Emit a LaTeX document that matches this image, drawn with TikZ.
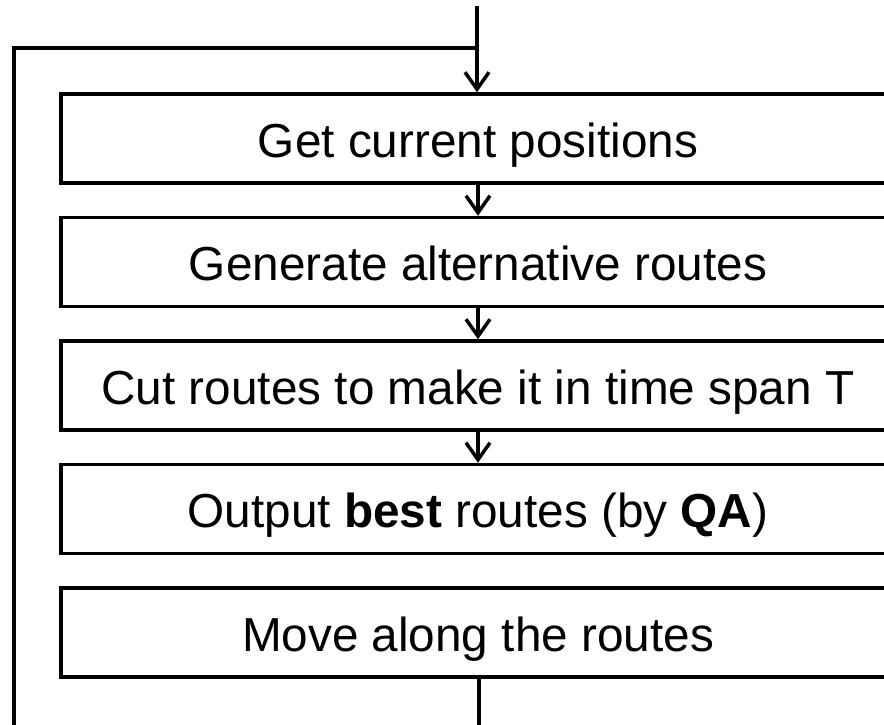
\documentclass[tikz,border=0pt]{standalone}
\usepackage{fontspec}
\setmainfont{Liberation Sans}
\usetikzlibrary{arrows.meta}

\tikzset{
  stepbox/.style={draw=black, line width=3.5pt, inner sep=0pt,
    minimum width=834pt, minimum height=89pt,
    text height=37pt, text depth=0pt,
    font=\fontsize{47.7pt}{57pt}\selectfont},
  flow/.style={draw=black, line width=3.5pt},
  flowarrow/.style={flow, -{Straight Barb[length=17pt, width=24pt, line width=3.5pt]}},
}

\begin{document}
\begin{tikzpicture}[x=1pt, y=-1pt]
  \useasboundingbox (0,0) rectangle (884,724);
  \clip (0,0) rectangle (884,724);

  % process steps
  \node[stepbox] (get)  at (478,138.5) {Get current positions};
  \node[stepbox] (gen)  at (478,262)   {Generate alternative routes};
  \node[stepbox] (cut)  at (478,385.5) {Cut routes to make it in time span T};
  \node[stepbox] (out)  at (478,509)   {Output \textbf{best} routes (by \textbf{QA})};
  \node[stepbox] (move) at (478,632.5) {Move along the routes};

  % entry and loop-back line
  \coordinate (start)  at (477,6);
  \coordinate (join)   at (477,48);
  \coordinate (corner) at (14,48);
  \coordinate (lbot)   at (14,730);
  \coordinate (bend)   at (479,730);

  \draw[flow] (lbot) -- (corner) -- (join);
  \draw[flowarrow] (start) -- (get.north -| start);

  % arrows between steps
  \draw[flowarrow] (get.south) -- (gen.north);
  \draw[flowarrow] (gen.south) -- (cut.north);
  \draw[flowarrow] (cut.south) -- (out.north);

  % exit from the last step
  \draw[flow] (move.south -| bend) -- (bend);
\end{tikzpicture}
\end{document}
